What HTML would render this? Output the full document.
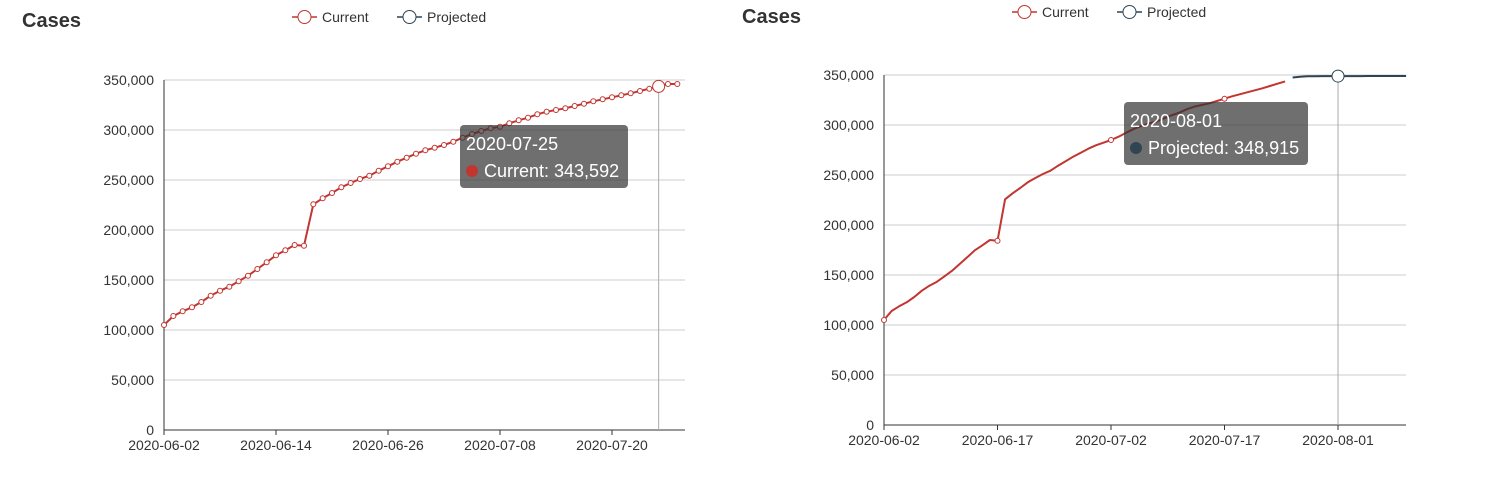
<!DOCTYPE html>
<html><head><meta charset="utf-8"><style>
body{margin:0;background:#fff;width:1506px;height:478px;overflow:hidden;font-family:"Liberation Sans",sans-serif}
svg{position:absolute;left:0;top:0}
</style></head><body>
<svg id="s" width="1506" height="478" xmlns="http://www.w3.org/2000/svg"></svg>
<script>
const leftDates=["2020-06-02","2020-06-14","2020-06-26","2020-07-08","2020-07-20"];
const rightDates=["2020-06-02","2020-06-17","2020-07-02","2020-07-17","2020-08-01"];
const yTicks=[0,50000,100000,150000,200000,250000,300000,350000];
const current=[105,114,118.7,122.7,128,134.3,139.3,143.3,148.7,154.3,161,167.7,174.7,179.7,185,184.3,225.7,231.7,237,242.7,247,251,254.3,259.3,263.7,268.3,272.3,276.3,279.7,282.3,285,288.3,292.3,296,299,301.7,303.3,306.7,309.7,312.3,315.7,318.3,320,321.7,324,326.3,328.7,330.7,332.7,334.7,336.7,339,341.3,343.592,346,346];
const projected=[347.5,348.3,348.7,348.8,348.9,348.9,348.915,348.92,348.93,348.93,348.94,348.94,348.94,348.95,348.95,348.95];
const projStart=54;
const NS="http://www.w3.org/2000/svg";
const s=document.getElementById('s');
function el(t,a,txt){const e=document.createElementNS(NS,t);for(const k in a)e.setAttribute(k,a[k]);if(txt!==undefined)e.textContent=txt;s.appendChild(e);return e;}
function fmt(v){return v.toLocaleString('en-US');}
function day(d){return (new Date(d)-new Date("2020-06-02"))/864e5;}
function chart(o){
  const X=d=>o.x0+d*o.pxd, Y=v=>o.yb-(v/350000)*(o.yb-o.yt);
  yTicks.forEach(t=>{
    let g=el('line',{x1:o.x0,x2:o.x1,y1:Y(t),y2:Y(t),stroke:t?'#ccc':'#333','stroke-width':1});
    
    let l=el('text',{x:o.x0-10,y:Y(t)+5,'text-anchor':'end','font-size':14,fill:'#333'},fmt(t));
    
  });
  let ax=el('line',{x1:o.x0,x2:o.x0,y1:o.yt,y2:o.yb,stroke:'#333'});
  
  o.dates.forEach(d=>{
    const x=X(day(d));
    let t=el('line',{x1:x,x2:x,y1:o.yb,y2:o.yb+5,stroke:'#333'});
    
    let l=el('text',{x:x,y:o.yb+20,'text-anchor':'middle','font-size':14,fill:'#333'},d);
    
  });
  let pl=el('line',{x1:X(o.sel),x2:X(o.sel),y1:o.yt,y2:o.yb,stroke:'#aaa'});
  
  const cur=current.slice(0,o.curN);
  const pts=cur.map((v,i)=>[X(i),Y(v*1000)]);
  let p=el('polyline',{points:pts.map(q=>q.join(',')).join(' '),fill:'none',stroke:'#c23531','stroke-width':2,'stroke-linejoin':'round'});
  
  pts.forEach((q,i)=>{
    if(i%o.every) return;
    let c=el('circle',{cx:q[0],cy:q[1],r:2.5,fill:'#fff',stroke:'#c23531'});
    
  });
  if(o.proj){
    const pp=projected.map((v,i)=>[X(projStart+i),Y(v*1000)]);
    let l=el('polyline',{points:pp.map(q=>q.join(',')).join(' '),fill:'none',stroke:'#2f4554','stroke-width':2});
    
    const sv=projected[o.sel-projStart]*1000;
    let c=el('circle',{cx:X(o.sel),cy:Y(sv),r:6,fill:'#fff',stroke:'#2f4554'});
    
  } else {
    let c=el('circle',{cx:X(o.sel),cy:Y(current[o.sel]*1000),r:6,fill:'#fff',stroke:'#c23531'});
    
  }
  // title
  let ti=el('text',{x:o.tx,y:o.ty,'font-size':20,'font-weight':'bold',fill:'#333'},'Cases');
  
  // legend
  [['Current','#c23531',0],['Projected','#2f4554',105]].forEach(([n,c,dx])=>{
    const lx=o.lx+dx;
    let a=el('line',{x1:lx,x2:lx+25,y1:o.ly,y2:o.ly,stroke:c,'stroke-width':1.5});
    
    let b=el('circle',{cx:lx+12.5,cy:o.ly,r:6.5,fill:'#fff',stroke:c});
    
    let t=el('text',{x:lx+30,y:o.ly+5,'font-size':14,fill:'#333'},n);
    
  });
  // tooltip
  let r=el('rect',{x:o.bx,y:o.by,width:o.bw,height:63,rx:4,fill:'rgba(50,50,50,0.7)'});
  
  let t1=el('text',{x:o.bx+6,y:o.by+25,'font-size':18,fill:'#fff'},o.tipDate);
  
  let d=el('circle',{cx:o.bx+12,cy:o.by+46,r:6,fill:o.tipColor});
  
  let t2=el('text',{x:o.bx+24,y:o.by+52,'font-size':18,fill:'#fff'},o.tipText);
  
}
chart({x0:164,x1:685,pxd:9.333,yt:80,yb:430,dates:leftDates,curN:56,every:1,sel:53,proj:false,tx:22,ty:27,lx:292,ly:17,bx:460,by:125,bw:168,tipDate:'2020-07-25',tipColor:'#c23531',tipText:'Current: 343,592'});
chart({x0:884,x1:1406,pxd:7.567,yt:75,yb:425,dates:rightDates,curN:54,every:15,sel:60,proj:true,tx:742,ty:23,lx:1012,ly:12,bx:1124,by:102,bw:184,tipDate:'2020-08-01',tipColor:'#2f4554',tipText:'Projected: 348,915'});
</script>
</body></html>
